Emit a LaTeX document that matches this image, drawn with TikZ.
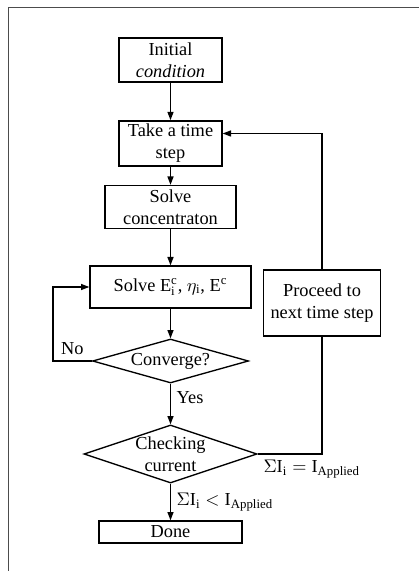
\documentclass[tikz,border=0pt]{standalone}
\usepackage{fontspec}
\setmainfont{Liberation Serif}
\usepackage{tikz}
\usetikzlibrary{shapes.geometric,arrows.meta}

\tikzset{
	box/.style={draw, line width=0.8pt, align=center, inner xsep=2pt, inner ysep=2pt},
	decision/.style={draw, diamond, line width=0.8pt, align=center, inner xsep=0pt, inner ysep=-3pt, shape aspect=3},
	flow/.style={line width=0.8pt, -{Triangle[length=5pt,width=3.6pt]}},
	back/.style={line width=0.8pt},
	frame/.style={line width=0.6pt, black!70}
}

\begin{document}
\begin{tikzpicture}[x=0.6pt,y=-0.6pt,font=\fontsize{11}{13.2}\selectfont]
					\useasboundingbox (0,0) rectangle (419,571);
					% Frame
					\draw[frame] (8,571) -- (8,8) -- (419,8);
					% Boxes of the main column
					\node[box, minimum width=61.8pt, minimum height=26.4pt] (init) at (170.5,60) {Initial\\ \textit{condition}};
					\node[box, minimum width=61.8pt, minimum height=26.4pt] (take) at (170.5,143.5) {Take a time\\ step};
					\node[box, minimum width=78.6pt, minimum height=25.8pt] (conc) at (170.5,207) {Solve\\ concentraton};
					\node[box, minimum width=96.6pt, minimum height=25.2pt] (solve) at (170.5,287) {Solve $\mathrm{E_i^c}$, $\eta_{\mathrm{i}}$, $\mathrm{E^c}$};
					\node[decision, minimum width=93.6pt, minimum height=26.4pt] (conv) at (170.5,361) {Converge?};
					\node[decision, minimum width=103.8pt, minimum height=34.8pt] (check) at (170.5,454) {Checking\\ current};
					\node[box, inner ysep=1pt, minimum width=85.8pt, minimum height=13.2pt] (done) at (170.5,532) {Done};
					% Side box
					\node[box, minimum width=70.2pt, minimum height=39.6pt] (next) at (322,303) {Proceed to\\ next time step};
					% Arrows
					\draw[flow] (init) -- (take);
					\draw[flow] (take) -- (conc);
					\draw[flow] (conc) -- (solve);
					\draw[flow] (solve) -- (conv);
					\draw[flow] (conv.west) -- ++(-39,0) node[midway, above] {No} |- (solve.west);
					\draw[flow] (conv) -- node[right, pos=0.35] {Yes} (check);
					\draw[flow] (check) -- node[right] {$\Sigma\mathrm{I_i} < \mathrm{I_{Applied}}$} (done);
					% Loop back to the next time step
					\draw[back] (check.east) -| node[below, pos=0.42] {$\Sigma\mathrm{I_i} = \mathrm{I_{Applied}}$} (next.south);
					\draw[flow] (next.north) |- ([yshift=6pt]take.east);
				\end{tikzpicture}
\end{document}
